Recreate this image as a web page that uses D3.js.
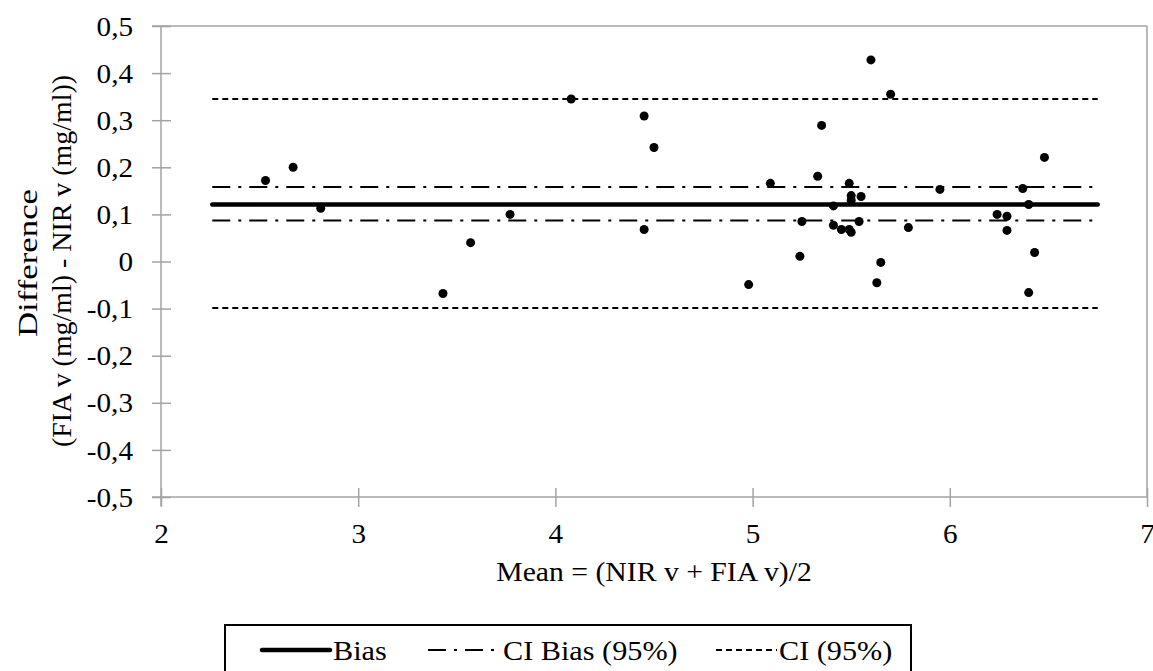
<!DOCTYPE html>
<html>
<head>
<meta charset="utf-8">
<script src="https://cdn.jsdelivr.net/npm/d3@7"></script>
<style>
  html, body { margin: 0; padding: 0; background: #fff; }
  svg { display: block; }
  text { font-family: "Liberation Serif", "Times New Roman", serif; fill: #000; }
</style>
</head>
<body>
<svg id="chart" width="1153" height="671"></svg>
<script>
// ---- data ----
const meanVals = [2.53, 2.67, 2.81, 3.43, 3.57, 3.77, 4.08, 4.45, 4.50, 4.45,
  4.98, 5.09, 5.24, 5.25, 5.33, 5.35, 5.41, 5.41, 5.45, 5.49,
  5.49, 5.50, 5.50, 5.50, 5.54, 5.55, 5.60, 5.63, 5.65, 5.70,
  5.79, 5.95, 6.24, 6.29, 6.29, 6.37, 6.40, 6.40, 6.43, 6.48];
const diffVals = [0.172, 0.200, 0.113, -0.068, 0.040, 0.100, 0.345, 0.309, 0.242, 0.068,
  -0.049, 0.166, 0.011, 0.085, 0.181, 0.289, 0.118, 0.077, 0.068, 0.068,
  0.166, 0.140, 0.130, 0.062, 0.085, 0.138, 0.428, -0.045, -0.002, 0.355,
  0.072, 0.153, 0.100, 0.096, 0.066, 0.155, 0.121, -0.066, 0.019, 0.221];
const biasValue = 0.121;
const ciBiasValues = [0.087, 0.158];
const ciValues = [-0.0985, 0.345];
const lineExtent = [2.26, 6.75];
const xTicks = [2, 3, 4, 5, 6, 7];
const yTicks = [-0.5, -0.4, -0.3, -0.2, -0.1, 0, 0.1, 0.2, 0.3, 0.4, 0.5];
const legendLabels = ["Bias", "CI Bias (95%)", "CI (95%)"];
const xTitle = "Mean = (NIR v + FIA v)/2";
const yTitle = ["Difference", "(FIA v (mg/ml) - NIR v (mg/ml))"];

// ---- layout ----
const svg = d3.select("#chart");
const L = 161, R = 1147, T = 26, B = 497;
const x = d3.scaleLinear().domain([2, 7]).range([L, R]);
const y = d3.scaleLinear().domain([-0.5, 0.5]).range([B, T]);
const axisColor = "#a3a3a3";

const fmt = v => (Math.abs(v) < 1e-9 ? "0" : d3.format(".1f")(v).replace(".", ",").replace("−", "-"));

// frame (top & right)
svg.append("line").attr("x1", L - 9).attr("x2", R).attr("y1", T).attr("y2", T)
  .attr("stroke", axisColor).attr("stroke-width", 1.5);
svg.append("line").attr("x1", R).attr("x2", R).attr("y1", T).attr("y2", B)
  .attr("stroke", axisColor).attr("stroke-width", 1.5);

// y axis
const yAxis = d3.axisLeft(y).tickValues(yTicks).tickSize(0).tickFormat("");
const gy = svg.append("g").attr("transform", `translate(${L},0)`).call(yAxis);
gy.select(".domain").attr("d", `M0,${T}V${B + 9}`)
  .attr("stroke", axisColor).attr("stroke-width", 1.5);
gy.selectAll(".tick").append("line").attr("x1", -9).attr("x2", 10)
  .attr("stroke", axisColor).attr("stroke-width", 1.5);
gy.selectAll(".tick").append("text")
  .attr("transform", "translate(-28,0) scale(1.08,1)")
  .attr("dy", "0.34em")
  .attr("text-anchor", "end")
  .style("font-size", "27px")
  .text(d => fmt(d));

// x axis
const xAxis = d3.axisBottom(x).tickValues(xTicks).tickSize(0).tickFormat("");
const gx = svg.append("g").attr("transform", `translate(0,${B})`).call(xAxis);
gx.select(".domain").attr("d", `M${L - 9},0H${R}`)
  .attr("stroke", axisColor).attr("stroke-width", 1.5);
gx.selectAll(".tick").append("line").attr("y1", -9).attr("y2", 10)
  .attr("stroke", axisColor).attr("stroke-width", 1.5);
gx.selectAll(".tick").append("text")
  .attr("transform", "translate(0,46) scale(1.08,1)")
  .attr("text-anchor", "middle")
  .style("font-size", "27px")
  .text(d => d);

// axis titles
svg.append("text")
  .attr("transform", `translate(${(L + R) / 2},581) scale(1.1,1)`)
  .attr("text-anchor", "middle").style("font-size", "27px")
  .text(xTitle);
svg.append("text")
  .attr("transform", "translate(37,263) rotate(-90)")
  .attr("text-anchor", "middle").style("font-size", "27px")
  .attr("textLength", 148).attr("lengthAdjust", "spacingAndGlyphs")
  .text(yTitle[0]);
svg.append("text")
  .attr("transform", "translate(71,261) rotate(-90)")
  .attr("text-anchor", "middle").style("font-size", "27px")
  .attr("textLength", 372).attr("lengthAdjust", "spacingAndGlyphs")
  .text(yTitle[1]);

// reference lines
const styles = {
  bias: { w: 4.5, dash: null },
  ciBias: { w: 2, dash: "18,8,3,8" },
  ci: { w: 2, dash: "6,4" }
};
function hline(v, st) {
  svg.append("line")
    .attr("x1", x(lineExtent[0])).attr("x2", x(lineExtent[1]))
    .attr("y1", y(v)).attr("y2", y(v))
    .attr("stroke", "#000").attr("stroke-width", st.w)
    .attr("stroke-linecap", st.dash ? "butt" : "round")
    .attr("stroke-dasharray", st.dash);
}
ciValues.forEach(v => hline(v, styles.ci));
ciBiasValues.forEach(v => hline(v, styles.ciBias));
hline(biasValue, styles.bias);

// points
svg.append("g").selectAll("circle")
  .data(meanVals.map((m, i) => [m, diffVals[i]]))
  .join("circle")
  .attr("cx", d => x(d[0])).attr("cy", d => y(d[1]))
  .attr("r", 4.5).attr("fill", "#000");

// legend
const lg = svg.append("g");
lg.append("rect").attr("x", 225).attr("y", 625).attr("width", 686).attr("height", 70)
  .attr("fill", "none").attr("stroke", "#000").attr("stroke-width", 2);
const items = [
  { label: legendLabels[0], st: styles.bias, x1: 262, x2: 330, tx: 333 },
  { label: legendLabels[1], st: styles.ciBias, x1: 428, x2: 500, tx: 503 },
  { label: legendLabels[2], st: styles.ci, x1: 716, x2: 777, tx: 779 }
];
items.forEach(it => {
  lg.append("line").attr("x1", it.x1).attr("x2", it.x2).attr("y1", 650).attr("y2", 650)
    .attr("stroke", "#000").attr("stroke-width", it.st.w)
    .attr("stroke-linecap", it.st.dash ? "butt" : "round")
    .attr("stroke-dasharray", it.st.dash);
  lg.append("text")
    .attr("transform", `translate(${it.tx},660) scale(1.12,1)`)
    .style("font-size", "27px")
    .text(it.label);
});
</script>
</body>
</html>
